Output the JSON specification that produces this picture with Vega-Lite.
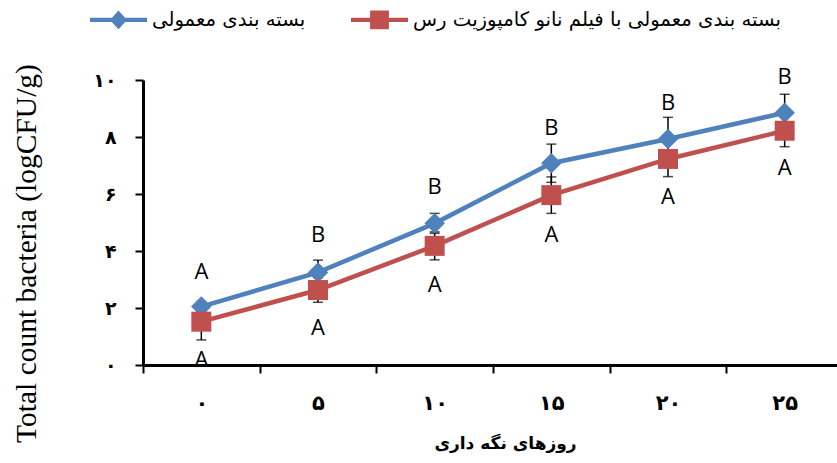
{
  "$schema": "https://vega.github.io/schema/vega-lite/v6.json",
  "autosize": {"type": "none"},
  "padding": {"left": 143, "top": 80, "right": 0, "bottom": 98},
  "width": 700,
  "height": 285,
  "background": "white",
  "config": {"view": {"stroke": null}},
  "data": {"values": [
    {"day": 0, "series": "بسته بندی معمولی", "mean": 2.05, "err": 0.18, "letter": "A", "letter_y": 3.27},
    {"day": 5, "series": "بسته بندی معمولی", "mean": 3.25, "err": 0.43, "letter": "B", "letter_y": 4.56},
    {"day": 10, "series": "بسته بندی معمولی", "mean": 4.97, "err": 0.35, "letter": "B", "letter_y": 6.25},
    {"day": 15, "series": "بسته بندی معمولی", "mean": 7.08, "err": 0.67, "letter": "B", "letter_y": 8.32},
    {"day": 20, "series": "بسته بندی معمولی", "mean": 7.93, "err": 0.76, "letter": "B", "letter_y": 9.19},
    {"day": 25, "series": "بسته بندی معمولی", "mean": 8.85, "err": 0.65, "letter": "B", "letter_y": 10.1},
    {"day": 0, "series": "بسته بندی معمولی با فیلم نانو کامپوزیت رس", "mean": 1.52, "err": 0.64, "letter": "A", "letter_y": 0.18},
    {"day": 5, "series": "بسته بندی معمولی با فیلم نانو کامپوزیت رس", "mean": 2.63, "err": 0.43, "letter": "A", "letter_y": 1.29},
    {"day": 10, "series": "بسته بندی معمولی با فیلم نانو کامپوزیت رس", "mean": 4.18, "err": 0.49, "letter": "A", "letter_y": 2.81},
    {"day": 15, "series": "بسته بندی معمولی با فیلم نانو کامپوزیت رس", "mean": 5.96, "err": 0.64, "letter": "A", "letter_y": 4.56},
    {"day": 20, "series": "بسته بندی معمولی با فیلم نانو کامپوزیت رس", "mean": 7.23, "err": 0.62, "letter": "A", "letter_y": 5.89},
    {"day": 25, "series": "بسته بندی معمولی با فیلم نانو کامپوزیت رس", "mean": 8.22, "err": 0.56, "letter": "A", "letter_y": 6.91}
  ]},
  "encoding": {
    "x": {
      "field": "day", "type": "ordinal",
      "scale": {"type": "band", "paddingInner": 0, "paddingOuter": 0},
      "axis": {
        "title": "روزهای نگه داری",
        "titleFont": "DejaVu Sans", "titleFontSize": 17, "titleFontWeight": "bold", "titleColor": "black",
        "titleX": 362, "titleY": 78, "titleBaseline": "middle", "titleAlign": "center",
        "labelAngle": 0,
        "labelExpr": "replace(replace(replace(replace(datum.label, '0', '۰'), '5', '۵'), '1', '۱'), '2', '۲')",
        "labelFont": "DejaVu Sans", "labelFontSize": 21, "labelFontWeight": "bold", "labelColor": "black",
        "labelBaseline": "middle", "labelPadding": 30,
        "tickBand": "extent", "tickSize": 8, "tickWidth": 2, "tickColor": "black",
        "domainColor": "black", "domainWidth": 3, "grid": false
      }
    },
    "y": {
      "field": "mean", "type": "quantitative",
      "title": "Total count bacteria (logCFU/g)",
      "scale": {"domain": [0, 10], "nice": false},
      "axis": {
        "titleFont": "Liberation Serif", "titleFontSize": 29.5, "titleFontWeight": "normal", "titleColor": "black",
        "titleX": -117, "titleY": 173, "titleBaseline": "middle", "titleAlign": "center", "titleAngle": -90,
        "values": [0, 2, 4, 6, 8, 10],
        "labelExpr": "replace(replace(replace(replace(replace(replace(datum.label, '0', '۰'), '2', '۲'), '4', '۴'), '6', '۶'), '8', '۸'), '1', '۱')",
        "labelFont": "DejaVu Sans", "labelFontSize": 19, "labelFontWeight": "bold", "labelColor": "black",
        "labelBaseline": "middle", "labelPadding": 19,
        "tickSize": 8, "tickWidth": 2, "tickColor": "black",
        "domainColor": "black", "domainWidth": 3, "grid": false
      }
    }
  },
  "layer": [
    {
      "mark": {"type": "errorbar", "ticks": true, "color": "black", "thickness": 1.5, "size": 10},
      "encoding": {
        "yError": {"field": "err"}
      }
    },
    {
      "mark": {"type": "line", "strokeWidth": 4.5},
      "encoding": {
        "detail": {"field": "series"},
        "color": {"condition": {"test": "datum.series === 'بسته بندی معمولی'", "value": "#4F81BD"}, "value": "#C0504D"}
      }
    },
    {
      "transform": [{"filter": "datum.series === 'بسته بندی معمولی'"}],
      "mark": {"type": "point", "shape": "diamond", "filled": true, "size": 420, "color": "#4F81BD", "opacity": 1},
      "encoding": {}
    },
    {
      "transform": [{"filter": "datum.series !== 'بسته بندی معمولی'"}],
      "mark": {"type": "point", "shape": "square", "filled": true, "size": 400, "color": "#C0504D", "opacity": 1},
      "encoding": {}
    },
    {
      "mark": {"type": "text", "font": "Open Sans", "fontSize": 22, "baseline": "middle", "align": "center", "color": "black"},
      "encoding": {
        "y": {"field": "letter_y", "type": "quantitative", "title": "Total count bacteria (logCFU/g)"},
        "text": {"field": "letter"}
      }
    },
    {
      "transform": [{"filter": "datum.day < 0"}],
      "mark": {"type": "point", "filled": true, "opacity": 1},
      "encoding": {
        "color": {
          "field": "series", "type": "nominal",
          "scale": {"domain": ["بسته بندی معمولی", "بسته بندی معمولی با فیلم نانو کامپوزیت رس"], "range": ["#4F81BD", "#C0504D"]},
          "legend": {
            "orient": "none", "direction": "horizontal", "legendX": -53, "legendY": -89,
            "title": null,
            "labelFont": "DejaVu Sans", "labelFontSize": 19.7, "labelColor": "black", "labelLimit": 700,
            "symbolSize": 3249, "symbolStrokeWidth": 0, "symbolOpacity": 1,
            "columnPadding": 45, "labelOffset": 5
          }
        },
        "shape": {
          "field": "series", "type": "nominal",
          "scale": {
            "domain": ["بسته بندی معمولی", "بسته بندی معمولی با فیلم نانو کامپوزیت رس"],
            "range": ["M-1,-0.075H1V0.075H-1Z M0,-0.33L0.3,0L0,0.33L-0.3,0Z", "M-1,-0.075H1V0.075H-1Z M-0.33,-0.33H0.33V0.33H-0.33Z"]
          },
          "legend": {
            "orient": "none", "direction": "horizontal", "legendX": -53, "legendY": -89,
            "title": null,
            "labelFont": "DejaVu Sans", "labelFontSize": 19.7, "labelColor": "black", "labelLimit": 700,
            "symbolSize": 3249, "symbolStrokeWidth": 0, "symbolOpacity": 1,
            "columnPadding": 45, "labelOffset": 5
          }
        }
      }
    }
  ]
}
